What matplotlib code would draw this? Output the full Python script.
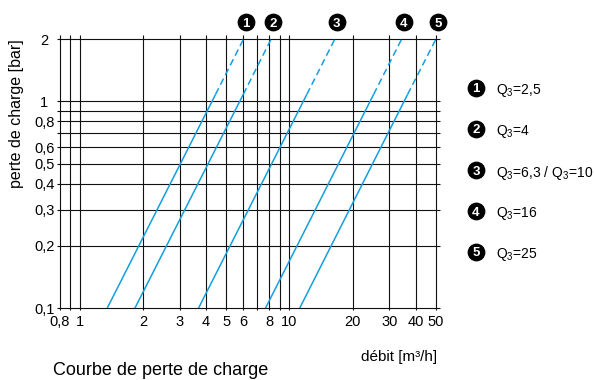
import matplotlib
matplotlib.use("Agg")
import matplotlib.pyplot as plt
from matplotlib.transforms import ScaledTranslation

plt.rcParams['font.family'] = ['Liberation Sans', 'DejaVu Sans']
plt.rcParams['mathtext.fontset'] = 'custom'
plt.rcParams['mathtext.rm'] = 'Liberation Sans'
plt.rcParams['mathtext.it'] = 'Liberation Sans:italic'
plt.rcParams['mathtext.bf'] = 'Liberation Sans:bold'

# Pressure-loss curves: flow [m³/h] at 0.1 bar, at the end of the solid part, and at 2 bar
curve_ids = ['1', '2', '3', '4', '5']
curve_labels = [r'Q$_3$=2,5', r'Q$_3$=4', r'Q$_3$=6,3 / Q$_3$=10', r'Q$_3$=16', r'Q$_3$=25']
flow_low = [1.35, 1.83, 3.68, 7.68, 11.18]
flow_break = [4.44, 6.02, 12.1, 25.2, 36.6]
flow_high = [6.04, 8.18, 16.46, 34.3, 50.0]
dp_low = 0.1
dp_break = 1.08
dp_high = 2.0

# Grid / tick values
x_grid = [0.8, 0.9, 1, 2, 3, 4, 5, 6, 7, 8, 9, 10, 20, 30, 40, 50]
y_grid = [0.1, 0.2, 0.3, 0.4, 0.5, 0.6, 0.7, 0.8, 0.9, 1, 2]
x_ticks = [0.8, 1, 2, 3, 4, 5, 6, 8, 10, 20, 30, 40, 50]
x_ticklabels = ['0,8', '1', '2', '3', '4', '5', '6', '8', '10', '20', '30', '40', '50']
y_ticks = [0.1, 0.2, 0.3, 0.4, 0.5, 0.6, 0.8, 1, 2]
y_ticklabels = ['0,1', '0,2', '0,3', '0,4', '0,5', '0,6', '0,8', '1', '2']

W, H = 594, 380
fig = plt.figure(figsize=(W / 100, H / 100), dpi=100)
x0, x1, ytop, ybot = 59.5, 436.0, 39.0, 308.3
ax = fig.add_axes([x0 / W, (H - ybot) / H, (x1 - x0) / W, (ybot - ytop) / H])
ax.set_xscale('log')
ax.set_yscale('log')
ax.set_xlim(0.8, 50)
ax.set_ylim(0.1, 2)
for s in ax.spines.values():
    s.set_visible(False)

aw, ah = x1 - x0, ybot - ytop
ax.vlines(x_grid, -2 / ah, 1 + 4 / ah, transform=ax.get_xaxis_transform(),
          colors='#111111', lw=0.8, clip_on=False, zorder=1)
ax.hlines(y_grid, -3 / aw, 1 + 4 / aw, transform=ax.get_yaxis_transform(),
          colors='#111111', lw=0.8, clip_on=False, zorder=1)

ax.xaxis.set_minor_locator(matplotlib.ticker.NullLocator())
ax.yaxis.set_minor_locator(matplotlib.ticker.NullLocator())
ax.set_xticks(x_ticks, x_ticklabels)
ax.set_yticks(y_ticks, y_ticklabels)
ax.tick_params(axis='both', length=0, labelsize=10.5)
ax.tick_params(axis='x', pad=5)
ax.tick_params(axis='y', pad=11)
for lab in ax.get_yticklabels():
    lab.set_horizontalalignment('center')

blue = '#129fe0'
for ql, qb, qh in zip(flow_low, flow_break, flow_high):
    ax.plot([ql, qb], [dp_low, dp_break], color=blue, lw=1.1, zorder=3,
            solid_capstyle='butt')
    ax.plot([qb, qh], [dp_break, dp_high], color=blue, lw=1.1, zorder=3,
            dashes=(4.5, 2.6), dash_capstyle='butt')

# Numbered badges above each curve
badge_tr = ax.get_xaxis_transform() + ScaledTranslation(2 / 100, 0, fig.dpi_scale_trans)
by = (ybot - 22.3) / ah
for cid, qh in zip(curve_ids, flow_high):
    ax.plot([qh], [by], 'o', ms=11.8, color='black', transform=badge_tr, clip_on=False)
    ax.text(qh, by, cid, transform=badge_tr, color='white', fontsize=9.5,
            fontweight='bold', ha='center', va='center_baseline')

# Legend on the right
leg_y = [87.7, 128.7, 170.0, 211.3, 252.0]
for cid, lab, yy in zip(curve_ids, curve_labels, leg_y):
    fy = 1 - yy / H
    fig.lines.append(plt.Line2D([476 / W], [fy], marker='o', ms=11.8, color='black',
                                transform=fig.transFigure))
    fig.text(476 / W, fy, cid, color='white', fontsize=9.5, fontweight='bold',
             ha='center', va='center_baseline')
    fig.text(496 / W, fy, lab, fontsize=10, ha='left', va='center_baseline')

fig.text(17 / W, 1 - 114 / H, 'perte de charge [bar]', rotation=90,
         fontsize=11.5, ha='center', va='center')
fig.text(437.3 / W, 19.5 / H, 'débit [m³/h]', fontsize=11, ha='right', va='baseline')
fig.text(53 / W, 5 / H, 'Courbe de perte de charge', fontsize=13, ha='left', va='baseline')

fig.savefig('out.png', dpi=100)
